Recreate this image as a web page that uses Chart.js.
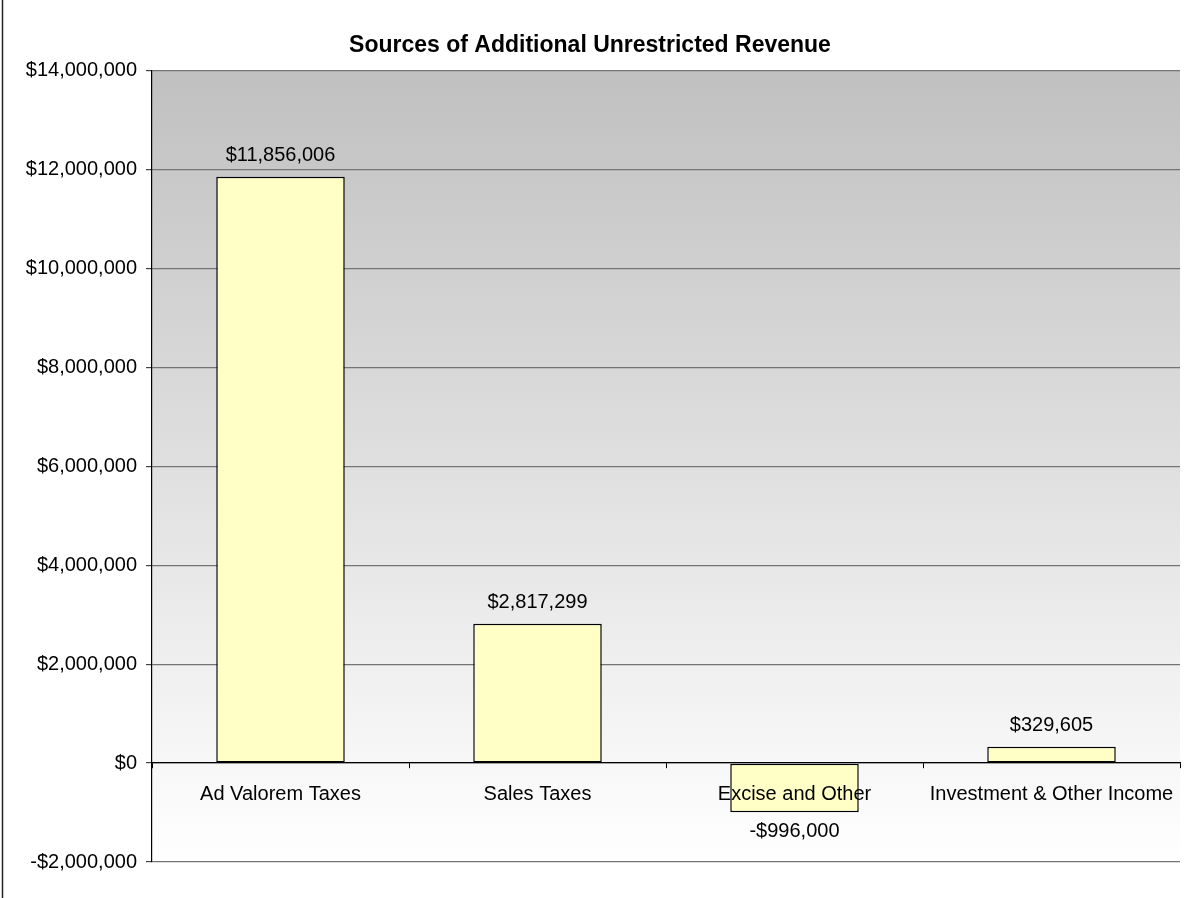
<!DOCTYPE html>
<html>
<head>
<meta charset="utf-8">
<script src="https://cdn.jsdelivr.net/npm/chart.js@4/dist/chart.umd.min.js"></script>
<style>
  html, body { margin: 0; padding: 0; background: #fff; }
  #wrap { width: 1199px; height: 898px; }
</style>
</head>
<body>
<div id="wrap"><canvas id="myChart" width="1199" height="898"></canvas></div>
<script>
const fonte = "Arial, 'Liberation Sans', sans-serif";

// dados do grafico
const categorias = ['Ad Valorem Taxes', 'Sales Taxes', 'Excise and Other', 'Investment & Other Income'];
const valores = [11856006, 2817299, -996000, 329605];
const eixoMin = -2000000;
const eixoMax = 14000000;
const eixoPasso = 2000000;

function moeda(v){
    const s = '$' + Math.abs(v).toLocaleString('en-US');
    return v < 0 ? '-' + s : s;
}

// fundo em degrade cinza -> branco dentro da area do grafico
const fundoPlugin = {
    id: 'fundo',
    beforeDraw(chart){
        const { ctx, chartArea } = chart;
        const g = ctx.createLinearGradient(0, chartArea.top, 0, chartArea.bottom);
        g.addColorStop(0, '#c0c0c0');
        g.addColorStop(1, '#ffffff');
        ctx.save();
        ctx.fillStyle = g;
        ctx.fillRect(chartArea.left, chartArea.top, chartArea.right - chartArea.left, chartArea.bottom - chartArea.top);
        // linha da borda esquerda
        ctx.strokeStyle = '#222';
        ctx.lineWidth = 1.5;
        ctx.beginPath();
        ctx.moveTo(2.5, 0);
        ctx.lineTo(2.5, chart.height);
        ctx.stroke();
        ctx.restore();
    }
};

// valores escritos acima / abaixo das barras
const rotulosPlugin = {
    id: 'rotulos',
    afterDraw(chart){
        const { ctx } = chart;
        const meta = chart.getDatasetMeta(0);
        ctx.save();
        ctx.font = '20px ' + fonte;
        ctx.fillStyle = '#000';
        ctx.textAlign = 'center';
        ctx.textBaseline = 'middle';
        meta.data.forEach((bar, i) => {
            const v = valores[i];
            const y = v >= 0 ? bar.y - 21 : bar.y + 19;
            ctx.fillText(moeda(v), bar.x, y);
        });
        ctx.restore();
    }
};

const ctx = document.getElementById('myChart');

new Chart(ctx, {
    type: 'bar',
    data: {
        labels: categorias,
        datasets: [{
            data: valores,
            backgroundColor: '#ffffc6',
            borderColor: '#000',
            borderWidth: 1.5,
            borderSkipped: false,
            barPercentage: 0.5,
            categoryPercentage: 1
        }]
    },
    options: {
        responsive: false,
        animation: false,
        layout: {
            padding: { left: 0, right: 19, top: 0, bottom: 36 }
        },
        scales: {
            y: {
                min: eixoMin,
                max: eixoMax,
                afterFit(scale){ scale.width = 152; },
                ticks: {
                    stepSize: eixoPasso,
                    padding: 9,
                    color: '#000',
                    font: { family: fonte, size: 20 },
                    callback: v => moeda(v)
                },
                grid: {
                    color: '#747474',
                    tickColor: '#444',
                    tickLength: 6,
                    lineWidth: 1.2
                },
                border: { color: '#000', width: 1.2 }
            },
            x: {
                position: { y: 0 },
                ticks: {
                    z: 1,
                    padding: 14,
                    color: '#000',
                    font: { family: fonte, size: 20 },
                    maxRotation: 0,
                    autoSkip: false
                },
                grid: {
                    drawOnChartArea: false,
                    offset: true,
                    tickLength: 5,
                    tickColor: '#000'
                },
                border: { color: '#000', width: 1.2, z: 1 }
            }
        },
        plugins: {
            legend: { display: false },
            tooltip: { enabled: false },
            title: {
                display: true,
                text: 'Sources of Additional Unrestricted Revenue',
                color: '#000',
                font: { family: fonte, size: 23, weight: 'bold' },
                padding: { top: 32, bottom: 11 }
            }
        }
    },
    plugins: [fundoPlugin, rotulosPlugin]
});
</script>
</body>
</html>
